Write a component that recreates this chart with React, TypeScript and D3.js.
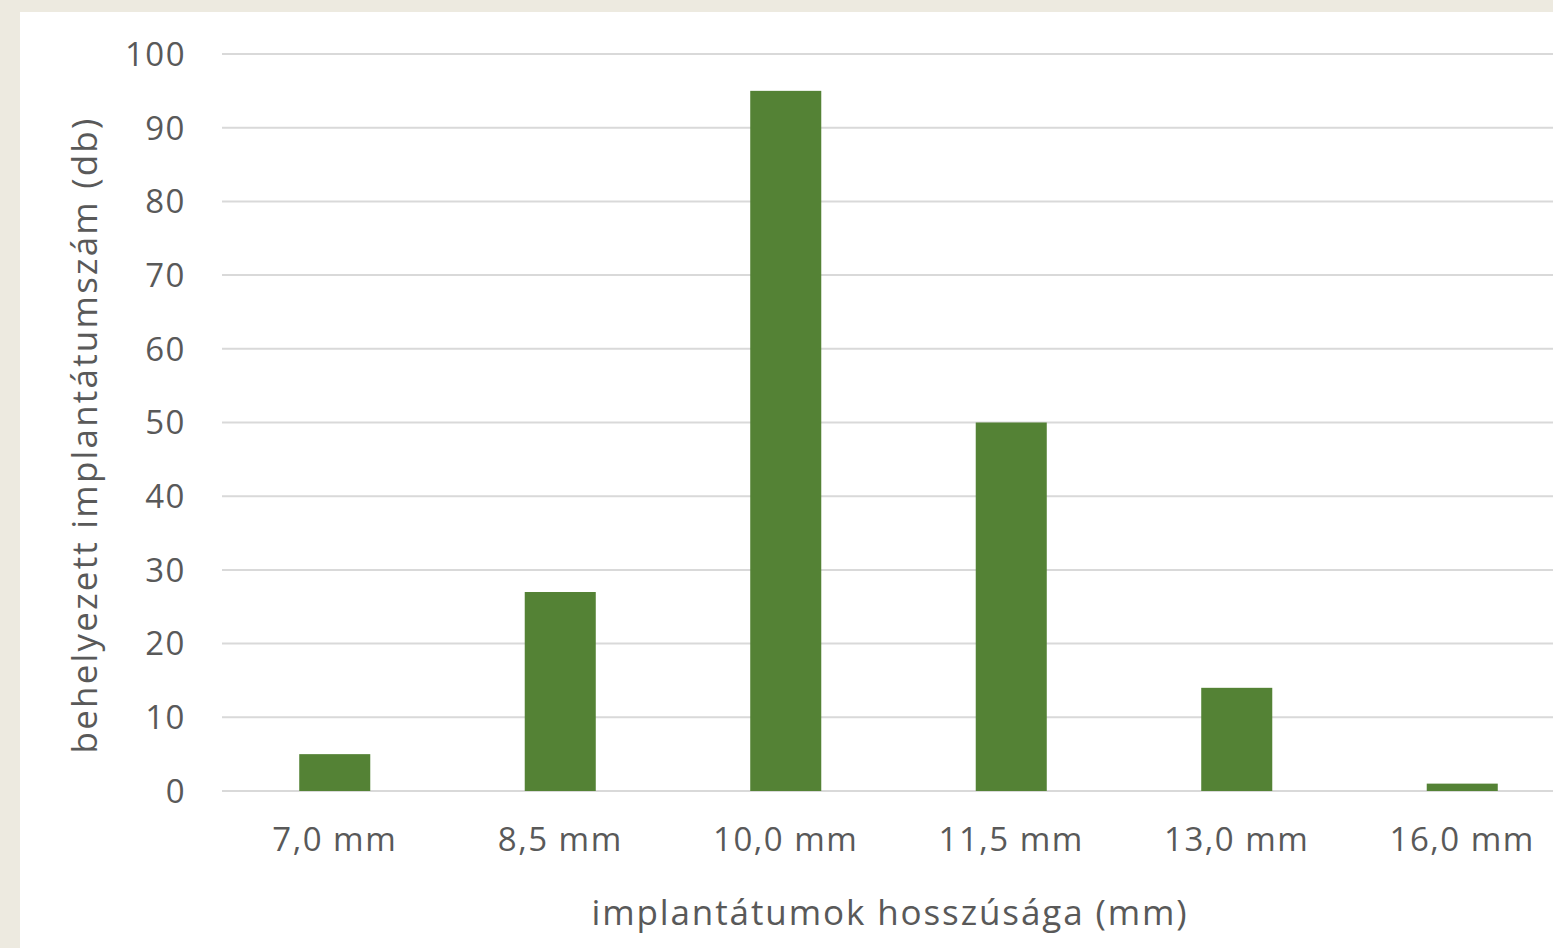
import React from "react";
import * as d3 from "d3";

const categories = ["7,0 mm", "8,5 mm", "10,0 mm", "11,5 mm", "13,0 mm", "16,0 mm"];
const counts = [5, 27, 95, 50, 14, 1];
const yTicks = [0, 10, 20, 30, 40, 50, 60, 70, 80, 90, 100];

const W = 1553;
const H = 948;
const FONT = "'Open Sans', Lato, sans-serif";
const TEXT = "#595959";

export default function App() {
  const x = d3
    .scaleBand<string>()
    .domain(categories)
    .range([222, 1575])
    .paddingInner(0.685)
    .paddingOuter(0.3425);
  const y = d3.scaleLinear().domain([0, 100]).range([791, 54]);

  return (
    <svg
      width={W}
      height={H}
      style={{ position: "absolute", left: 0, top: 0, display: "block" }}
    >
      <rect x={0} y={0} width={W} height={H} fill="#EDEAE0" />
      <rect x={20} y={12} width={W - 20} height={H - 12} fill="#FFFFFF" />

      {/* horizontal gridlines and value labels */}
      {yTicks.map((t) => (
        <g key={t}>
          <line x1={222} x2={1575} y1={y(t)} y2={y(t)} stroke="#D9D9D9" strokeWidth={2} />
          <text
            x={186}
            y={y(t)}
            dy="0.36em"
            textAnchor="end"
            fontFamily={FONT}
            fontSize={33}
            letterSpacing={1.5}
            fill={TEXT}
          >
            {t}
          </text>
        </g>
      ))}

      {/* bars */}
      {categories.map((c, i) => (
        <rect
          key={c}
          x={x(c)}
          y={y(counts[i])}
          width={x.bandwidth()}
          height={y(0) - y(counts[i])}
          fill="#548235"
        />
      ))}

      {/* category labels */}
      {categories.map((c) => (
        <text
          key={c}
          x={(x(c) as number) + x.bandwidth() / 2}
          y={851}
          textAnchor="middle"
          fontFamily={FONT}
          fontSize={33}
          letterSpacing={1.5}
          fill={TEXT}
        >
          {c}
        </text>
      ))}

      {/* axis titles */}
      <text
        x={890}
        y={925}
        textAnchor="middle"
        fontFamily={FONT}
        fontSize={35}
        letterSpacing={1.9}
        fill={TEXT}
      >
        implantátumok hosszúsága (mm)
      </text>
      <text
        transform="translate(97, 435) rotate(-90)"
        textAnchor="middle"
        fontFamily={FONT}
        fontSize={35}
        letterSpacing={2.2}
        fill={TEXT}
      >
        behelyezett implantátumszám (db)
      </text>
    </svg>
  );
}
